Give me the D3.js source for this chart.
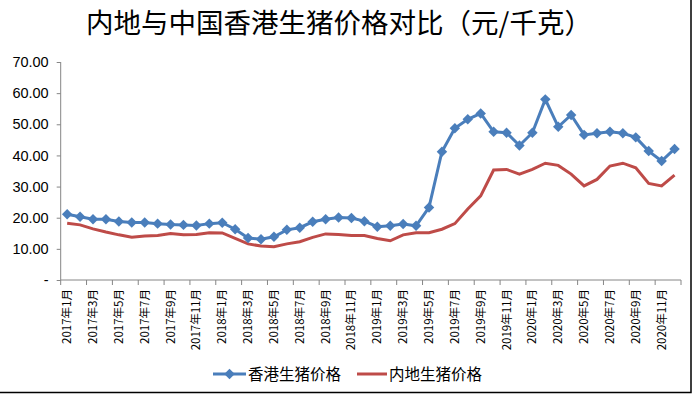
<!DOCTYPE html>
<html>
<head>
<meta charset="utf-8">
<script src="https://cdnjs.cloudflare.com/ajax/libs/d3/7.8.5/d3.min.js"></script>
<style>
  body { margin: 0; background: #fff; }
  svg { display: block; font-family: "Noto Sans CJK SC", "DejaVu Sans", sans-serif; }
</style>
</head>
<body>
<svg id="chart" width="692" height="395"></svg>
<script>
// months 2017年1月 .. 2020年12月
const months = [];
for (let y = 2017; y <= 2020; y++) for (let m = 1; m <= 12; m++) months.push(y + "年" + m + "月");

const hkPrice = [21.1, 20.3, 19.5, 19.5, 18.8, 18.5, 18.5, 18.1, 17.8, 17.7, 17.5, 18.1,
                 18.4, 16.3, 13.5, 13.1, 13.9, 16.1, 16.8, 18.7, 19.5, 20.1, 19.9, 18.9,
                 17.1, 17.4, 18.0, 17.4, 23.3, 41.2, 48.7, 51.6, 53.5, 47.6, 47.3, 43.2,
                 47.3, 58.0, 49.2, 53.0, 46.6, 47.1, 47.6, 47.1, 45.8, 41.4, 38.2, 42.1];
const mainlandPrice = [18.2, 17.7, 16.4, 15.4, 14.5, 13.7, 14.1, 14.3, 14.9, 14.5, 14.6, 15.2,
                       15.1, 13.4, 11.6, 10.9, 10.7, 11.6, 12.3, 13.7, 14.8, 14.6, 14.3, 14.3,
                       13.3, 12.6, 14.5, 15.2, 15.2, 16.3, 18.1, 22.8, 27.0, 35.3, 35.5, 34.0,
                       35.5, 37.5, 36.8, 34.0, 30.2, 32.3, 36.6, 37.5, 36.0, 31.0, 30.2, 33.7];
const yTicks = [0, 10, 20, 30, 40, 50, 60, 70];

const blue = "#4a7ebb", red = "#be4b48";
const svg = d3.select("#chart");

// frame: only right and bottom edges show
svg.append("path").attr("d", "M691,0V392.5H0")
  .attr("fill", "none").attr("stroke", "#000").attr("stroke-width", 1.5);

svg.append("text").attr("x", 339).attr("y", 33).attr("text-anchor", "middle")
  .attr("font-size", 27.5).attr("fill", "#000").text("内地与中国香港生猪价格对比（元/千克）");

const x = d3.scaleBand().domain(months).range([60.7, 681]);
const y = d3.scaleLinear().domain([0, 70]).range([280, 62]);

// y axis
const yAxis = svg.append("g").attr("transform", "translate(60.7,0)")
  .call(d3.axisLeft(y).tickValues(yTicks).tickSize(4).tickPadding(8)
    .tickFormat(d => d === 0 ? "-" : d3.format(".2f")(d)));
yAxis.selectAll("text").attr("font-size", 14.5).attr("fill", "#000")
  .attr("font-family", "Liberation Sans, Arial, sans-serif");
yAxis.selectAll("line, path").attr("stroke", "#868686");
yAxis.select(".domain").attr("d", "M0," + y(70) + "V" + y(0));

// x axis: ticks every 2 months at band boundaries, labels at band centers
const xg = svg.append("g").attr("transform", "translate(0,280)");
xg.append("line").attr("x1", x.range()[0]).attr("x2", x.range()[1])
  .attr("stroke", "#868686");
const tickIdx = d3.range(0, months.length + 1, 2);
xg.selectAll(".tk").data(tickIdx).join("line")
  .attr("x1", i => x.range()[0] + i * x.step()).attr("x2", i => x.range()[0] + i * x.step())
  .attr("y1", 0).attr("y2", 5).attr("stroke", "#868686");
xg.selectAll(".lbl").data(months.filter((d, i) => i % 2 === 0)).join("text")
  .attr("transform", d => "translate(" + (x(d) + x.bandwidth() / 2 + 4) + ",9) rotate(-90)")
  .attr("text-anchor", "end").attr("font-size", 11.5).attr("fill", "#000").text(d => d);

const line = d3.line().x((d, i) => x(months[i]) + x.bandwidth() / 2).y(d => y(d));

svg.append("path").datum(mainlandPrice).attr("d", line)
  .attr("fill", "none").attr("stroke", red).attr("stroke-width", 3);
svg.append("path").datum(hkPrice).attr("d", line)
  .attr("fill", "none").attr("stroke", blue).attr("stroke-width", 3);

const diamond = d3.symbol().type(d3.symbolDiamond2).size(70);
svg.selectAll(".hk").data(hkPrice).join("path")
  .attr("transform", (d, i) => "translate(" + (x(months[i]) + x.bandwidth() / 2) + "," + y(d) + ")")
  .attr("d", diamond).attr("fill", blue);

// legend
const lg = svg.append("g").attr("transform", "translate(0,374)");
lg.append("line").attr("x1", 213).attr("x2", 246).attr("stroke", blue).attr("stroke-width", 3);
lg.append("path").attr("transform", "translate(229.5,0)").attr("d", diamond).attr("fill", blue);
lg.append("text").attr("x", 248).attr("y", 6).attr("font-size", 15.5).attr("fill", "#000").text("香港生猪价格");
lg.append("line").attr("x1", 357).attr("x2", 387).attr("stroke", red).attr("stroke-width", 3);
lg.append("text").attr("x", 389).attr("y", 6).attr("font-size", 15.5).attr("fill", "#000").text("内地生猪价格");
</script>
</body>
</html>
